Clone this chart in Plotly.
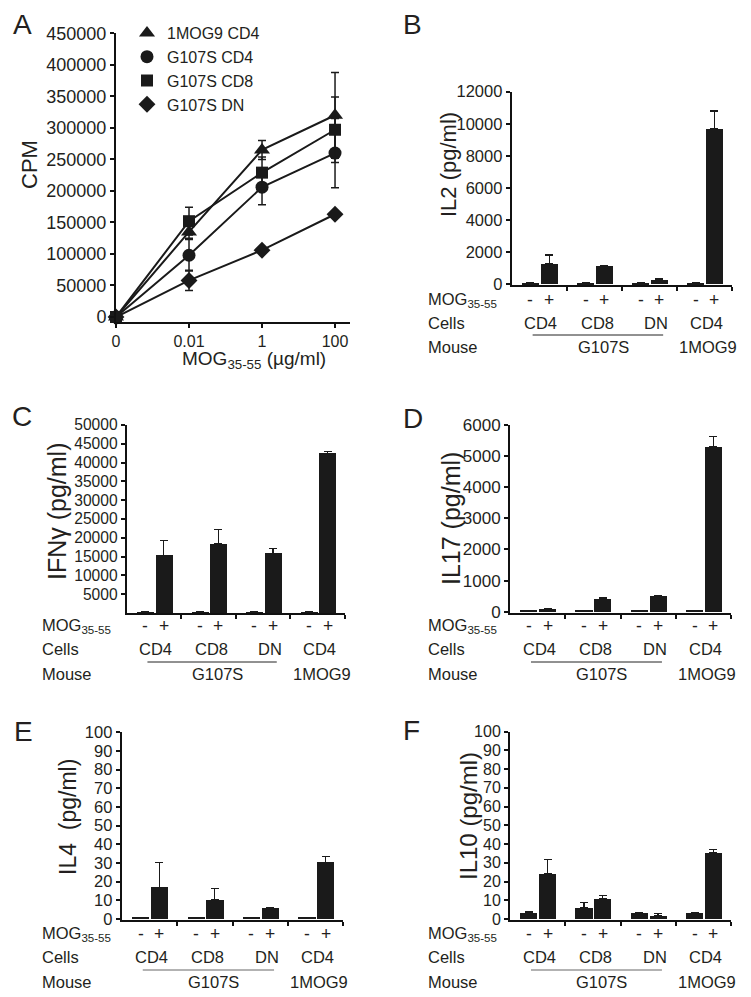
import plotly.graph_objects as go

W, H = 751, 997
OFF = 8  # page body margin of the html page
FONT = "Liberation Sans, Arial, sans-serif"
TXT = "#231f20"
BLK = "#1a1a1a"

# ---------------- Panel A data ----------------
doses = ["0", "0.01", "1", "100"]
series_names = ["1MOG9 CD4", "G107S CD4", "G107S CD8", "G107S DN"]
cpm_1mog9_cd4 = [0, 135000, 265000, 320000]
err_1mog9_cd4 = [0, 10000, 15000, 68000]
cpm_g107s_cd4 = [0, 98000, 206000, 260000]
err_g107s_cd4 = [0, 25000, 28000, 55000]
cpm_g107s_cd8 = [0, 152000, 229000, 297000]
err_g107s_cd8 = [0, 22000, 25000, 52000]
cpm_g107s_dn = [0, 58000, 106000, 163000]
err_g107s_dn = [0, 16000, 4000, 4000]

# ---------------- Bar panel data ----------------
cells = ["CD4", "CD8", "DN", "CD4"]
mice = ["G107S", "1MOG9"]

il2_neg = [60, 60, 60, 60]
il2_neg_err = [0, 0, 0, 0]
il2_pos = [1290, 1120, 290, 9670]
il2_pos_err = [520, 30, 30, 1130]

ifng_neg = [250, 250, 250, 250]
ifng_neg_err = [0, 0, 0, 0]
ifng_pos = [15400, 18400, 15900, 42500]
ifng_pos_err = [3800, 3900, 1300, 400]

il17_neg = [40, 40, 40, 40]
il17_neg_err = [0, 0, 0, 0]
il17_pos = [90, 420, 520, 5300]
il17_pos_err = [0, 50, 0, 320]

il4_neg = [0.5, 0.5, 0.5, 0.5]
il4_neg_err = [0, 0, 0, 0]
il4_pos = [17.0, 10.2, 5.6, 30.4]
il4_pos_err = [13.4, 6.3, 0.6, 3.0]

il10_neg = [3.5, 6.0, 3.5, 3.3]
il10_neg_err = [0.5, 2.7, 0, 0]
il10_pos = [24.4, 10.7, 2.0, 35.5]
il10_pos_err = [7.5, 2.0, 1.0, 1.8]


def PX(p):
    return (p - OFF) / W


def PY(p):
    return 1 - (p - OFF) / H


fig = go.Figure()
annotations = []
shapes = []

axis_common = dict(showline=True, linewidth=2, linecolor="#111", ticks="outside",
                   ticklen=4, tickwidth=1.5, tickcolor="#111", showgrid=False,
                   zeroline=False, tickformat="d", automargin=False,
                   tickfont=dict(family=FONT, color=TXT))

# ---------------- Panel A ----------------
xpos = list(range(len(doses)))
a_series = [
    (cpm_1mog9_cd4, err_1mog9_cd4, "triangle-up", 14),
    (cpm_g107s_cd4, err_g107s_cd4, "circle", 13),
    (cpm_g107s_cd8, err_g107s_cd8, "square", 12),
    (cpm_g107s_dn, err_g107s_dn, "diamond", 13),
]
for vals, errs, sym, sz in a_series:
    fig.add_trace(go.Scatter(x=xpos, y=vals, mode="lines", line=dict(color=BLK, width=2),
                             showlegend=False, xaxis="x", yaxis="y", cliponaxis=False,
                             hoverinfo="skip"))
for name, (vals, errs, sym, sz) in zip(series_names, a_series):
    fig.add_trace(go.Scatter(x=xpos, y=vals, mode="markers", name=name,
                             marker=dict(symbol=sym, size=sz, color=BLK),
                             error_y=dict(type="data", array=errs, visible=True,
                                          color=BLK, thickness=1.5, width=4),
                             xaxis="x", yaxis="y", cliponaxis=False))

layout_axes = {}
layout_axes["xaxis"] = dict(axis_common, domain=[PX(116), PX(350)], range=[0, 3.205],
                            tickvals=xpos, ticktext=doses, anchor="y",
                            tickfont=dict(family=FONT, color=TXT, size=16))
layout_axes["yaxis"] = dict(axis_common, domain=[PY(322), PY(33.3)], range=[-7900, 450000],
                            tickvals=list(range(0, 450001, 50000)), anchor="x",
                            tickfont=dict(family=FONT, color=TXT, size=18))

annotations.append(dict(text="CPM", x=PX(30), y=PY(165), xref="paper", yref="paper",
                        xanchor="center", yanchor="middle",
                        textangle=-90, showarrow=False, font=dict(family=FONT, size=22, color=TXT)))
annotations.append(dict(text="MOG<sub>35-55</sub> (\u00b5g/ml)", x=PX(254), y=PY(360),
                        xref="paper", yref="paper", showarrow=False,
                        xanchor="center", yanchor="middle",
                        font=dict(family=FONT, size=19, color=TXT)))

# ---------------- Bar panels ----------------
panels = [
    dict(idx=2, neg=il2_neg, negerr=il2_neg_err, pos=il2_pos, poserr=il2_pos_err,
         ylabel="IL2 (pg/ml)", xd=(511.7, 732), yt=91.7, yb=285, rng=[-62, 12000],
         tv=list(range(0, 12001, 2000)), tfs=16.5, lab=(449, 165), lfs=22,
         rows=(300, 323, 335, 347), left=426, ulc="#222"),
    dict(idx=3, neg=ifng_neg, negerr=ifng_neg_err, pos=ifng_pos, poserr=ifng_pos_err,
         ylabel="IFN\u03b3 (pg/ml)", xd=(126.7, 345), yt=425, yb=613, rng=[0, 50000],
         tv=list(range(5000, 50001, 5000)), tfs=15.6, lab=(57, 511), lfs=25,
         rows=(626, 649, 662, 674), left=39.5, ulc="#222"),
    dict(idx=4, neg=il17_neg, negerr=il17_neg_err, pos=il17_pos, poserr=il17_pos_err,
         ylabel="IL17 (pg/ml)", xd=(510, 731), yt=425, yb=613, rng=[-41, 6000],
         tv=list(range(0, 6001, 1000)), tfs=17, lab=(451, 519), lfs=25,
         rows=(626, 649, 662, 674), left=425.7, ulc="#222"),
    dict(idx=5, neg=il4_neg, negerr=il4_neg_err, pos=il4_pos, poserr=il4_pos_err,
         ylabel="IL4  (pg/ml)", xd=(121.7, 343.3), yt=732.3, yb=920, rng=[-0.54, 100],
         tv=list(range(0, 101, 10)), tfs=16.5, lab=(68, 817), lfs=23,
         rows=(934, 956.7, 970, 981.7), left=39.5, ulc="#666"),
    dict(idx=6, neg=il10_neg, negerr=il10_neg_err, pos=il10_pos, poserr=il10_pos_err,
         ylabel="IL10 (pg/ml)", xd=(510, 731), yt=731.7, yb=920, rng=[-0.53, 100],
         tv=list(range(0, 101, 10)), tfs=16, lab=(468, 816), lfs=24,
         rows=(934, 956.7, 970, 981.7), left=425.7, ulc="#666"),
]

NEG_OFF, POS_OFF, BW = 0.34, 0.68, 0.31
cell_pos = [0.53, 1.55, 2.62, 3.54]
mouse_pos = [1.66, 3.57]
ROWF = 16.5

for p in panels:
    i = p["idx"]
    xa, ya = f"x{i}", f"y{i}"
    ngroups = len(p["neg"])
    xs = []
    ys = []
    es = []
    for g in range(ngroups):
        xs += [g + NEG_OFF, g + POS_OFF]
        ys += [p["neg"][g], p["pos"][g]]
        es += [p["negerr"][g], p["poserr"][g]]
    fig.add_trace(go.Bar(x=xs, y=ys, width=BW, marker=dict(color=BLK, line=dict(width=0)),
                         error_y=dict(type="data", symmetric=False, array=es,
                                      arrayminus=[0] * len(es), color=BLK,
                                      thickness=1.2, width=4),
                         showlegend=False, xaxis=xa, yaxis=ya))
    layout_axes[f"xaxis{i}"] = dict(axis_common, domain=[PX(p["xd"][0]), PX(p["xd"][1])],
                                    range=[0, ngroups], tickvals=list(range(1, ngroups + 1)),
                                    showticklabels=False, anchor=ya)
    layout_axes[f"yaxis{i}"] = dict(axis_common, domain=[PY(p["yb"]), PY(p["yt"])],
                                    range=p["rng"], tickvals=p["tv"], anchor=xa,
                                    tickfont=dict(family=FONT, color=TXT, size=p["tfs"]))
    annotations.append(dict(text=p["ylabel"], x=PX(p["lab"][0]), y=PY(p["lab"][1]),
                            xref="paper", yref="paper", textangle=-90, showarrow=False,
                            xanchor="center", yanchor="middle",
                            font=dict(family=FONT, size=p["lfs"], color=TXT)))
    ymog, ycells, yline, ymouse = p["rows"]
    for txt, yy in [("MOG<sub>35-55</sub>", ymog), ("Cells", ycells), ("Mouse", ymouse)]:
        annotations.append(dict(text=txt, x=PX(p["left"]), y=PY(yy), xref="paper", yref="paper",
                                xanchor="left", yanchor="middle", showarrow=False,
                                font=dict(family=FONT, size=ROWF, color=TXT)))
    for g in range(ngroups):
        for off, sign in [(NEG_OFF, "-"), (POS_OFF, "+")]:
            annotations.append(dict(text=sign, x=g + off, y=PY(ymog), xref=xa, yref="paper",
                                    showarrow=False, xanchor="center", yanchor="middle",
                                    font=dict(family=FONT, size=ROWF + 1, color=TXT)))
        annotations.append(dict(text=cells[g], x=cell_pos[g], y=PY(ycells), xref=xa, yref="paper",
                                showarrow=False, xanchor="center", yanchor="middle",
                                font=dict(family=FONT, size=ROWF, color=TXT)))
    for m, mx in zip(mice, mouse_pos):
        annotations.append(dict(text=m, x=mx, y=PY(ymouse), xref=xa, yref="paper",
                                showarrow=False, xanchor="center", yanchor="middle",
                                font=dict(family=FONT, size=ROWF, color=TXT)))
    shapes.append(dict(type="line", xref=xa, yref="paper", x0=0.38, x1=2.75,
                       y0=PY(yline), y1=PY(yline), line=dict(color=p["ulc"], width=1)))

# panel letters
for letter, lx, ly in [("A", 22, 25), ("B", 412, 25), ("C", 22, 416), ("D", 413, 418),
                       ("E", 23, 731), ("F", 411, 730)]:
    annotations.append(dict(text=letter, x=PX(lx), y=PY(ly), xref="paper", yref="paper",
                            showarrow=False, xanchor="center", yanchor="middle",
                            font=dict(family=FONT, size=28, color=TXT)))

fig.update_layout(
    width=W, height=H, margin=dict(l=0, r=0, t=0, b=0, autoexpand=False),
    paper_bgcolor="white", plot_bgcolor="white",
    font=dict(family=FONT, color=TXT),
    showlegend=True,
    legend=dict(x=PX(127), y=PY(16), xanchor="left", yanchor="top",
                bgcolor="rgba(0,0,0,0)", font=dict(family=FONT, size=16, color=TXT),
                tracegroupgap=0, itemclick=False),
    annotations=annotations, shapes=shapes, bargap=0,
    **layout_axes,
)

fig.write_html("out.html")
